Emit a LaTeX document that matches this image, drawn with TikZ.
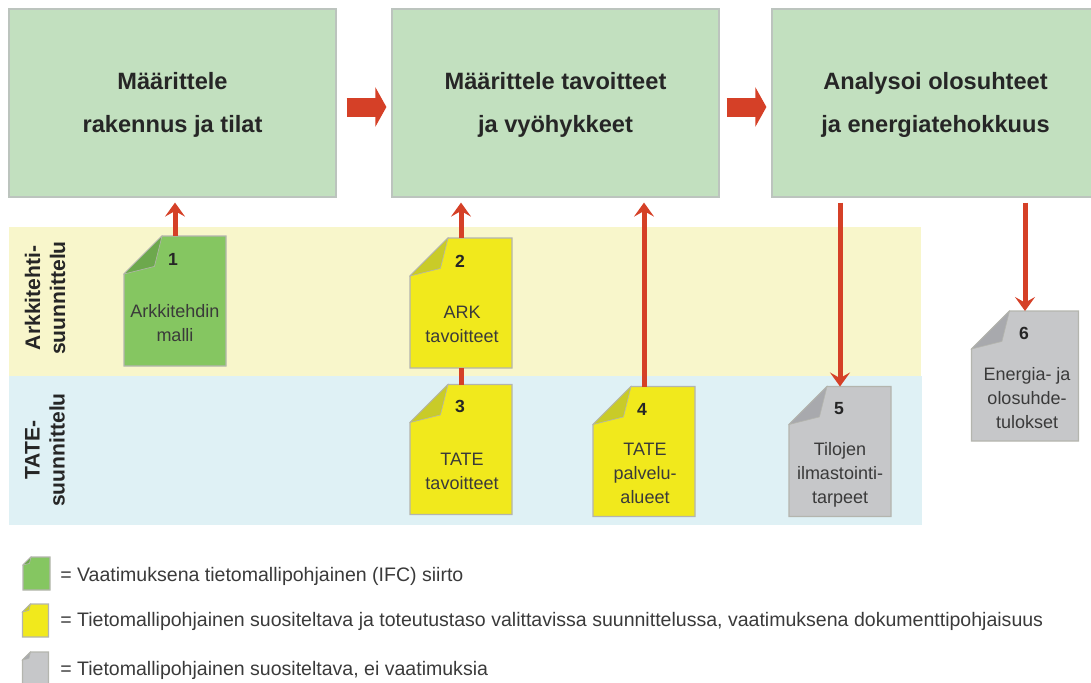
\documentclass[tikz,border=0pt]{standalone}
\usepackage{fontspec}
\setmainfont{Liberation Sans}
\usepackage{tikz}
\usetikzlibrary{arrows.meta}
\usetikzlibrary{calc}
\definecolor{phasegreen}{HTML}{C2E0BF}
\definecolor{phaseline}{HTML}{BCC4BE}
\definecolor{bandyellow}{HTML}{F8F6CB}
\definecolor{bandblue}{HTML}{DFF1F5}
\definecolor{flowred}{HTML}{D54027}
\definecolor{pagegreen}{HTML}{85C661}
\definecolor{foldgreen}{HTML}{6DA84D}
\definecolor{pageyellow}{HTML}{F1E91C}
\definecolor{foldyellow}{HTML}{C9CB28}
\definecolor{pagegray}{HTML}{C6C7C9}
\definecolor{foldgray}{HTML}{A8A9AD}
\definecolor{pageline}{HTML}{B4B5AE}
\definecolor{inktext}{HTML}{3A3A3A}
\newcommand{\docpage}[7]{
    \node (#1) at (#2) [docbox,minimum width=#3*0.25mm,minimum height=#4*0.25mm] {};
    \draw [pageline,line width=0.3mm,fill=#5] ($(#1.north west)+(#7,0)$) -- (#1.north east) -- (#1.south east) -- (#1.south west) -- ($(#1.north west)+(0,#7)$) -- cycle;
    \draw [pageline,line width=0.15mm,fill=#6] ($(#1.north west)+(#7,0)$) -- ($(#1.north west)+(0.8*#7,0.8*#7)$) -- ($(#1.north west)+(0,#7)$) -- cycle;
}
\begin{document}
\begin{tikzpicture}
    [
    x=0.25mm,y=-0.25mm,
    phase/.style={rectangle,draw=phaseline,line width=0.3mm,fill=phasegreen,inner sep=0pt,minimum width=81.75mm,minimum height=47mm},
    phasetext/.style={align=center,text=black!85,font=\fontsize{16.8}{30.6}\selectfont\bfseries},
    band/.style={rectangle,inner sep=0pt,minimum width=228mm,minimum height=37.25mm},
    bandlabel/.style={rotate=90,align=center,text=black!85,font=\fontsize{15}{17.8}\selectfont\bfseries},
    docbox/.style={rectangle,inner sep=0pt,outer sep=0pt},
    docnumber/.style={text=black!85,font=\fontsize{12.5}{15}\selectfont\bfseries},
    doctext/.style={align=center,text=inktext,font=\fontsize{12.8}{17.1}\selectfont},
    legend/.style={anchor=west,inner sep=0pt,text=inktext,font=\fontsize{13.9}{16}\selectfont},
    flow/.style={flowred,line width=1.25mm,-{Stealth[length=3.5mm,width=5mm,inset=1.4mm]}},
    stem/.style={flowred,line width=1.25mm},
    bigflow/.style={flowred,line width=4.75mm,-{Triangle[length=2.75mm,width=9.75mm]}}
    ]
    \useasboundingbox (0,0) rectangle (1091,682);
    \node (yellowband) at (465,301.5) [band,fill=bandyellow] {};
    \node (blueband) at (465.5,450.5) [band,fill=bandblue] {};
    \node (phase1) at (172.5,103) [phase] {};
    \node (phase2) at (555.5,103) [phase] {};
    \node (phase3) at (935.5,103) [phase] {};
    \node (title1) at (172.5,104.5) [phasetext] {Määrittele\\rakennus ja tilat};
    \node (title2) at (555.5,104.5) [phasetext] {Määrittele tavoitteet\\ja vyöhykkeet};
    \node (title3) at (935.5,104.5) [phasetext] {Analysoi olosuhteet\\ja energiatehokkuus};
    \draw [bigflow,shorten <=2.5mm,shorten >=1.25mm] ([yshift=-1mm]phase1.east) -- ([yshift=-1mm]phase2.west);
    \draw [bigflow,shorten <=1.75mm,shorten >=1.25mm] ([yshift=-1mm]phase2.east) -- ([yshift=-1mm]phase3.west);
    \node (arklabel) at (45,298) [bandlabel] {Arkkitehti-\\suunnittelu};
    \node (tatelabel) at (45,450) [bandlabel] {TATE-\\suunnittelu};
    \docpage{doc1}{175,301}{102}{130}{pagegreen}{foldgreen}{38}
    \docpage{doc2}{461,303}{102}{130}{pageyellow}{foldyellow}{38}
    \docpage{doc3}{461,449.5}{102}{130}{pageyellow}{foldyellow}{38}
    \docpage{doc4}{644,451.5}{102}{130}{pageyellow}{foldyellow}{38}
    \docpage{doc5}{840,451.5}{102}{130}{pagegray}{foldgray}{38}
    \docpage{doc6}{1025,376}{107}{130}{pagegray}{foldgray}{38}
    \node (num1) at (173,259) [docnumber] {1};
    \node (num2) at (460,261) [docnumber] {2};
    \node (num3) at (460,406) [docnumber] {3};
    \node (num4) at (642,409) [docnumber] {4};
    \node (num5) at (839,409) [docnumber] {5};
    \node (num6) at (1024,333) [docnumber] {6};
    \node (text1) at (175,323) [doctext] {Arkkitehdin\\malli};
    \node (text2) at (462,324) [doctext] {ARK\\tavoitteet};
    \node (text3) at (462,471) [doctext] {TATE\\tavoitteet};
    \node (text4) at (645,473) [doctext] {TATE\\palvelu-\\alueet};
    \node (text5) at (840,474.5) [doctext] {Tilojen\\ilmastointi-\\tarpeet};
    \node (text6) at (1027,398) [doctext] {Energia- ja\\olosuhde-\\tulokset};
    \draw [flow,shorten >=1.25mm] (doc1.north) -- (doc1.north |- phase1.south);
    \draw [flow,shorten >=1.25mm] (doc2.north) -- (doc2.north |- phase2.south);
    \draw [stem] (doc3.north) -- (doc2.south);
    \draw [flow,shorten >=1.25mm] (doc4.north) -- (doc4.north |- phase2.south);
    \draw [flow,shorten <=1.25mm] (doc5.north |- phase3.south) -- (doc5.north);
    \draw [flow,shorten <=1.25mm] (doc6.north |- phase3.south) -- (doc6.north);
    \docpage{key1}{36.5,573.5}{27}{33}{pagegreen}{foldgreen}{8}
    \docpage{key2}{35.5,620.5}{26}{33}{pageyellow}{foldyellow}{8}
    \docpage{key3}{35.5,669}{26}{34}{pagegray}{foldgray}{8}
    \node (keytext1) at (60,576) [legend] {= Vaatimuksena tietomallipohjainen (IFC) siirto};
    \node (keytext2) at (60,621) [legend] {= Tietomallipohjainen suositeltava ja toteutustaso valittavissa suunnittelussa, vaatimuksena dokumenttipohjaisuus};
    \node (keytext3) at (60,670) [legend] {= Tietomallipohjainen suositeltava, ei vaatimuksia};
\end{tikzpicture}
\end{document}
